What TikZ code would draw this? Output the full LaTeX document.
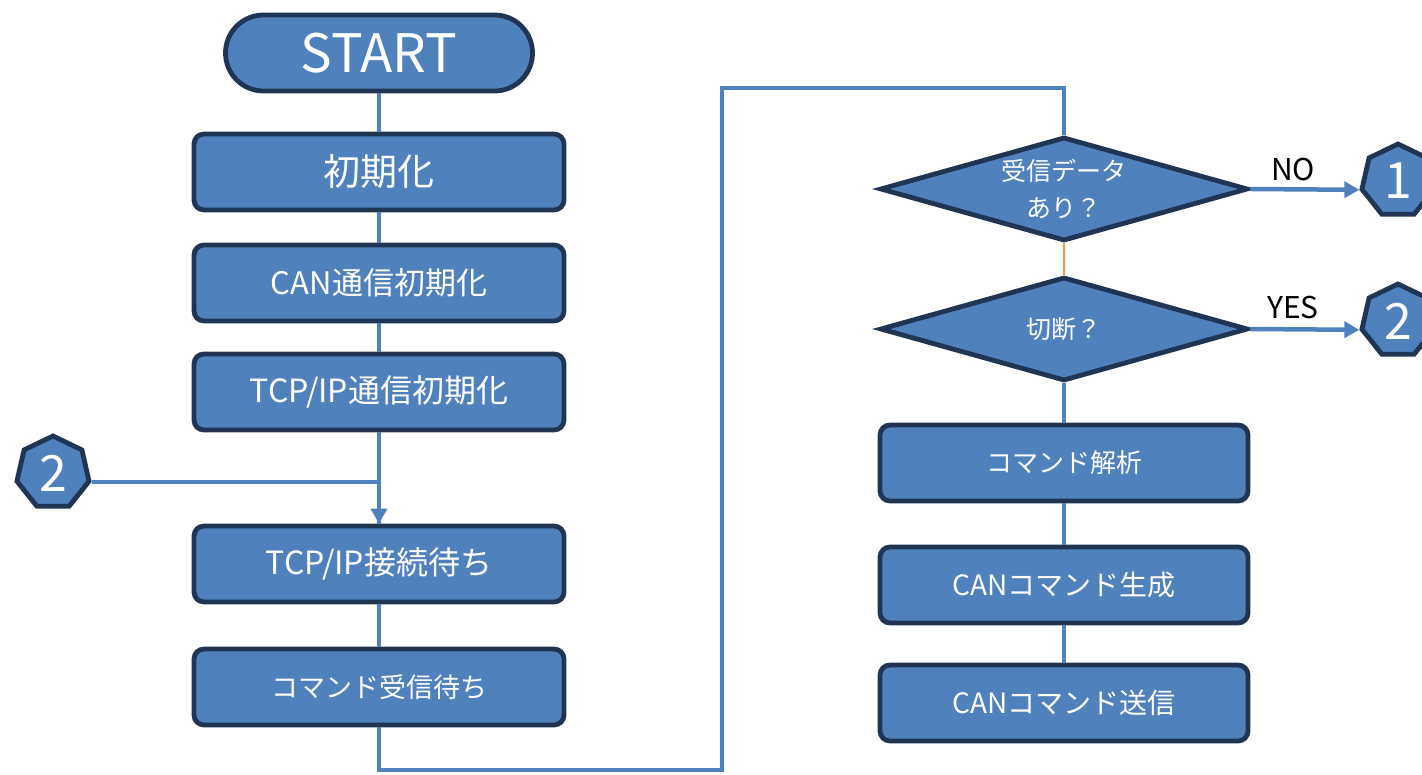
\documentclass[tikz,border=0pt]{standalone}
\usepackage{fontspec}
\setmainfont{Noto Sans CJK JP}
\usetikzlibrary{shapes.geometric,arrows.meta}
\definecolor{boxfill}{HTML}{4F81BD}
\definecolor{boxline}{HTML}{1F3553}
\definecolor{linkc}{HTML}{4F81BD}
\definecolor{orangec}{HTML}{F79646}
\begin{document}
\begin{tikzpicture}[x=1pt,y=-1pt,
  procbox/.style={draw=boxline,fill=boxfill,line width=4.8pt,rounded corners=10pt,
    minimum width=370pt,minimum height=76pt,text=white,inner sep=0pt,
    font=\fontsize{28}{32}\selectfont},
  termbox/.style={draw=boxline,fill=boxfill,line width=4.8pt,rounded corners=38pt,
    minimum width=307pt,minimum height=76pt,text=white,inner sep=0pt,
    font=\fontsize{53}{56}\selectfont},
  decbox/.style={diamond,draw=boxline,fill=boxfill,line width=4.8pt,aspect=3.6,
    minimum width=368pt,minimum height=104pt,text=white,inner sep=0pt,align=center,
    font=\fontsize{25}{37}\selectfont},
  hepta/.style={regular polygon,regular polygon sides=7,draw=boxline,fill=boxfill,
    line width=4.8pt,minimum size=74pt,inner sep=0pt,text=white,
    font=\fontsize{50}{54}\selectfont},
  link/.style={draw=linkc,line width=4.5pt},
  linkarrow/.style={link,-{Triangle[length=15pt,width=16pt]}},
  lbl/.style={text=black,font=\fontsize{30}{34}\selectfont,inner sep=0pt}
]
\useasboundingbox (0,0) rectangle (1422,775);

% left column
\node[termbox] (start) at (379,53) {START};
\node[procbox] (b1) at (379,172) {\fontsize{37}{40}\selectfont 初期化};
\node[procbox] (b2) at (379,283) {\fontsize{31}{34}\selectfont CAN通信初期化};
\node[procbox] (b3) at (379,392) {\fontsize{32}{35}\selectfont TCP/IP通信初期化};
\node[procbox] (b4) at (379,564) {\fontsize{32}{35}\selectfont TCP/IP接続待ち};
\node[procbox] (b5) at (379,687) {\fontsize{27}{30}\selectfont コマンド受信待ち};
\node[hepta] (hL) at (53,473) {2};

% right column
\node[decbox] (d1) at (1064,189) {受信データ\\あり？};
\node[decbox] (d2) at (1064,329) {切断？};
\node[procbox,minimum width=368pt] (b6) at (1064,463) {\fontsize{26}{30}\selectfont コマンド解析};
\node[procbox,minimum width=368pt] (b7) at (1064,585) {CANコマンド生成};
\node[procbox,minimum width=368pt] (b8) at (1064,703) {CANコマンド送信};
\node[hepta] (h1) at (1398,181) {1};
\node[hepta] (h2) at (1398,321) {2};

\node[lbl] (no) at (1293,170) {NO};
\node[lbl] (yes) at (1293,308) {YES};

\coordinate (k1) at (722,770);
\coordinate (k2) at (722,88);

% connectors
\draw[link] (start.south) -- (b1.north);
\draw[link] (b1.south) -- (b2.north);
\draw[link] (b2.south) -- (b3.north);
\draw[linkarrow] (b3.south) -- (b4.north);
\draw[link] (hL.corner 6) -| (b4.north);
\draw[link] (b4.south) -- (b5.north);
\draw[link] (b5.south) |- (k1) -- (k2) -| (d1.north);
\draw[draw=orangec,line width=1.5pt] (d1.south) -- (d2.north);
\draw[link] (d2.south) -- (b6.north);
\draw[link] (b6.south) -- (b7.north);
\draw[link] (b7.south) -- (b8.north);
\draw[linkarrow] (d1.east) -- (h1.corner 3);
\draw[linkarrow] (d2.east) -- (h2.corner 3);
\end{tikzpicture}
\end{document}
